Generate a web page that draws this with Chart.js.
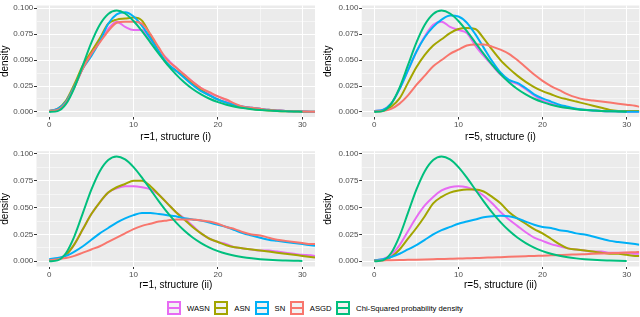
<!DOCTYPE html>
<html>
<head>
<meta charset="utf-8">
<script src="https://cdn.jsdelivr.net/npm/chart.js@4/dist/chart.umd.min.js"></script>
<style>
  body { margin: 0; width: 640px; height: 317px; background: #fff; position: relative; overflow: hidden;
         font-family: "Liberation Sans", Arial, sans-serif; }
  canvas { position: absolute; }
  #legend { position: absolute; left: 167px; top: 301px; height: 14px; display: flex; align-items: center;
            font-size: 7.7px; color: #000; white-space: nowrap; }
  .key { width: 10px; height: 10px; border: 2px solid currentColor; background: #F2F2F2; position: relative; margin-right: 6px; }
  .key::after { content: ''; position: absolute; left: 0; right: 0; top: 4px; height: 2px; background: currentColor; }
  .lab { color: #000; margin-right: 4.5px; }
</style>
</head>
<body>
<canvas id="p1"></canvas>
<canvas id="p2"></canvas>
<canvas id="p3"></canvas>
<canvas id="p4"></canvas>
<div id="legend"></div>
<script>
const xs = [0,1,2,3,4,5,6,7,8,9,10,11,12,13,14,15,16,17,18,19,20,21,22,23,24,25,26,27,28,29,30,31,31.5];

const xMajor = [0, 10, 20, 30];
const yMajor = [0, 0.025, 0.05, 0.075, 0.1];

const seriesNames = ['WASN', 'ASN', 'SN', 'ASGD', 'Chi-Squared probability density'];
const seriesColors = ['#E76BF3', '#A3A500', '#00B0F6', '#F8766D', '#00BF7D'];

const panelTitles = ['r=1, structure (i)', 'r=5, structure (i)', 'r=1, structure (ii)', 'r=5, structure (ii)'];

// same reference curve in every panel (ends at x = 30)
const chiDensity = [0,.0008,.0077,.0235,.0451,.0668,.0840,.0944,.0977,.0949,.0877,.0779,.0669,.0559,.0456,.0365,.0286,.0221,.0169,.0127,.0095,.0070,.0051,.0037,.0027,.0019,.0013,.0009,.0007,.0005,.0003,null,null];

// r=1, structure (i)
const p1Wasn = [.001,.003,.010,.025,.042,.057,.068,.080,.087,.082,.079,.079,.069,.059,.051,.043,.036,.029,.023,.018,.015,.011,.007,.005,.004,.003,.002,.0015,.001,.0007,.0005,.0003,.0003];
const p1Asn  = [.001,.003,.011,.027,.045,.058,.071,.085,.089,.090,.091,.088,.074,.058,.046,.040,.034,.027,.021,.016,.012,.009,.006,.004,.003,.002,.0015,.001,.0007,.0005,.0003,.0002,.0002];
const p1Sn   = [.001,.003,.010,.025,.042,.054,.068,.085,.094,.096,.092,.083,.071,.058,.047,.040,.033,.026,.020,.016,.012,.009,.007,.005,.004,.003,.002,.0015,.001,.0007,.0005,.0003,.0003];
const p1Asgd = [.001,.002,.009,.024,.042,.056,.067,.078,.086,.087,.087,.085,.075,.062,.050,.043,.036,.029,.023,.019,.015,.012,.008,.005,.004,.003,.002,.0015,.001,.0007,.0005,.0003,.0003];

// r=5, structure (i)
const p2Wasn = [.001,.002,.008,.022,.040,.058,.073,.084,.087,.082,.079,.076,.064,.054,.045,.036,.030,.027,.022,.016,.011,.008,.006,.004,.003,.002,.0015,.001,.0007,.0005,.0003,.0002,.0002];
const p2Asn  = [.0005,.001,.005,.013,.028,.043,.055,.064,.070,.076,.080,.081,.080,.071,.060,.050,.042,.035,.029,.024,.020,.017,.014,.012,.010,.008,.006,.004,.002,.001,.0008,.0008,.0008];
const p2Sn   = [.001,.002,.008,.022,.040,.058,.072,.082,.089,.093,.092,.086,.075,.062,.049,.038,.031,.028,.023,.017,.013,.010,.007,.005,.003,.002,.0015,.001,.0007,.0005,.0003,.0002,.0002];
const p2Asgd = [.0005,.001,.003,.008,.016,.026,.035,.044,.050,.056,.060,.064,.065,.065,.063,.060,.056,.050,.043,.036,.030,.025,.021,.017,.014,.012,.011,.010,.009,.008,.007,.006,.005];

// r=1, structure (ii)
const p3Wasn = [.001,.002,.006,.016,.030,.044,.055,.064,.068,.070,.070,.069,.067,.062,.054,.046,.040,.033,.026,.021,.018,.016,.013,.012,.011,.010,.010,.009,.008,.007,.006,.0055,.005];
const p3Asn  = [.001,.002,.006,.016,.030,.044,.055,.064,.069,.072,.075,.075,.070,.062,.054,.046,.039,.032,.026,.021,.018,.015,.013,.012,.011,.010,.009,.008,.007,.006,.005,.004,.0035];
const p3Sn   = [.002,.003,.005,.009,.014,.020,.026,.031,.036,.040,.043,.045,.045,.044,.043,.042,.040,.039,.038,.036,.034,.032,.029,.026,.024,.022,.020,.019,.018,.017,.016,.015,.0145];
const p3Asgd = [.001,.002,.003,.005,.008,.011,.014,.018,.022,.026,.030,.033,.035,.037,.038,.039,.039,.039,.038,.037,.035,.032,.030,.027,.025,.024,.022,.020,.019,.018,.017,.016,.016];

// r=5, structure (ii)
const p4Wasn = [.001,.002,.006,.015,.028,.041,.052,.060,.066,.069,.070,.069,.066,.061,.054,.046,.039,.033,.027,.022,.019,.016,.014,.012,.011,.010,.009,.009,.008,.008,.008,.007,.007];
const p4Asn  = [.001,.001,.004,.011,.021,.031,.042,.054,.060,.064,.066,.067,.067,.065,.060,.054,.046,.040,.035,.030,.026,.021,.016,.012,.011,.010,.009,.008,.007,.007,.006,.005,.005];
const p4Sn   = [.001,.002,.004,.007,.011,.015,.020,.025,.029,.032,.035,.037,.039,.041,.042,.0425,.042,.040,.037,.034,.032,.031,.029,.028,.026,.025,.023,.021,.019,.018,.017,.016,.0155];
const p4Asgd = [.0005,.0007,.001,.0012,.0013,.0015,.0017,.0019,.0021,.0023,.0025,.0028,.0030,.0033,.0035,.0038,.0041,.0044,.0047,.0050,.0052,.0055,.0058,.0061,.0063,.0066,.0069,.0072,.0075,.0078,.0082,.0085,.0087];

const panelSeries = [
  [p1Wasn, p1Asn, p1Sn, p1Asgd, chiDensity],
  [p2Wasn, p2Asn, p2Sn, p2Asgd, chiDensity],
  [p3Wasn, p3Asn, p3Sn, p3Asgd, chiDensity],
  [p4Wasn, p4Asn, p4Sn, p4Asgd, chiDensity]
];

const FONT = '"Liberation Sans", Arial, sans-serif';

// grid ticks: majors plus ggplot-style minors half way between
const xTicks = [0, 5, 10, 15, 20, 25, 30];
const yTicks = [0, 0.0125, 0.025, 0.0375, 0.05, 0.0625, 0.075, 0.0875, 0.1];
const isMajor = (list, v) => list.some(m => Math.abs(m - v) < 1e-9);

// grey ggplot panel
const panelBg = {
  id: 'panelBg',
  beforeDraw(chart) {
    const { ctx, chartArea: a } = chart;
    ctx.save();
    ctx.fillStyle = '#EBEBEB';
    ctx.fillRect(a.left, a.top, a.right - a.left, a.bottom - a.top);
    ctx.restore();
  }
};

// canvas placement / axis sizes per panel
const layouts = [
  { left: 0,   top: 0,   yw: 36.5, pr: 5,   pt: 1.5, xh: 28,   tpad: 3, ytp: 0 },
  { left: 320, top: 0,   yw: 41.7, pr: 0.7, pt: 1.5, xh: 28,   tpad: 3, ytp: 3 },
  { left: 0,   top: 145, yw: 36.5, pr: 5,   pt: 6.2, xh: 23.5, tpad: 0, ytp: 0 },
  { left: 320, top: 145, yw: 41.7, pr: 0.7, pt: 6.2, xh: 23.5, tpad: 0, ytp: 3 }
];

function gridOpts(major) {
  return {
    color: '#FFFFFF',
    lineWidth: c => (c.tick && isMajor(major, c.tick.value)) ? 1 : 0.5,
    tickColor: c => (c.tick && isMajor(major, c.tick.value)) ? '#333333' : 'rgba(0,0,0,0)',
    tickWidth: 1,
    tickLength: 2.5,
    drawTicks: true
  };
}

function makePanel(i) {
  const L = layouts[i];
  const canvas = document.getElementById('p' + (i + 1));
  canvas.width = 320;
  canvas.height = 145;
  canvas.style.left = L.left + 'px';
  canvas.style.top = L.top + 'px';

  const datasets = panelSeries[i].map((arr, k) => ({
    label: seriesNames[k],
    data: arr.map((v, j) => ({ x: xs[j], y: v })).filter(p => p.y !== null),
    borderColor: seriesColors[k],
    borderWidth: 2,
    pointRadius: 0,
    fill: false,
    cubicInterpolationMode: 'monotone',
    order: 5 - k
  }));

  new Chart(canvas, {
    type: 'line',
    data: { datasets },
    options: {
      responsive: false,
      animation: false,
      events: [],
      layout: { padding: { left: 0, right: L.pr, top: L.pt, bottom: 0 } },
      plugins: { legend: { display: false }, tooltip: { enabled: false } },
      scales: {
        x: {
          type: 'linear',
          min: -1.5,
          max: 31.5,
          afterBuildTicks: s => { s.ticks = xTicks.map(v => ({ value: v })); },
          afterFit: s => { s.height = L.xh; },
          grid: gridOpts(xMajor),
          border: { display: false },
          ticks: {
            autoSkip: false, maxRotation: 0, padding: 0.7, color: '#4D4D4D',
            font: { family: FONT, size: 8 },
            callback: v => isMajor(xMajor, v) ? String(v) : ''
          },
          title: {
            display: true, text: panelTitles[i], color: '#000',
            font: { family: FONT, size: 10, lineHeight: 1 },
            padding: { top: 0, bottom: L.tpad }
          }
        },
        y: {
          type: 'linear',
          min: -0.00488,
          max: 0.1026,
          afterBuildTicks: s => { s.ticks = yTicks.map(v => ({ value: v })); },
          afterFit: s => { s.width = L.yw; },
          grid: gridOpts(yMajor),
          border: { display: false },
          ticks: {
            autoSkip: false, padding: 0.7, color: '#4D4D4D',
            font: { family: FONT, size: 8 },
            callback: v => isMajor(yMajor, v) ? v.toFixed(3) : ''
          },
          title: {
            display: true, text: 'density', color: '#000',
            font: { family: FONT, size: 10, lineHeight: 1 },
            padding: { top: L.ytp, bottom: 0 }
          }
        }
      }
    },
    plugins: [panelBg]
  });
}

for (let i = 0; i < 4; i++) makePanel(i);

// shared legend under the panels
const legend = document.getElementById('legend');
seriesNames.forEach((name, k) => {
  const key = document.createElement('span');
  key.className = 'key';
  key.style.color = seriesColors[k];
  const lab = document.createElement('span');
  lab.className = 'lab';
  lab.textContent = name;
  legend.appendChild(key);
  legend.appendChild(lab);
});
</script>
</body>
</html>
